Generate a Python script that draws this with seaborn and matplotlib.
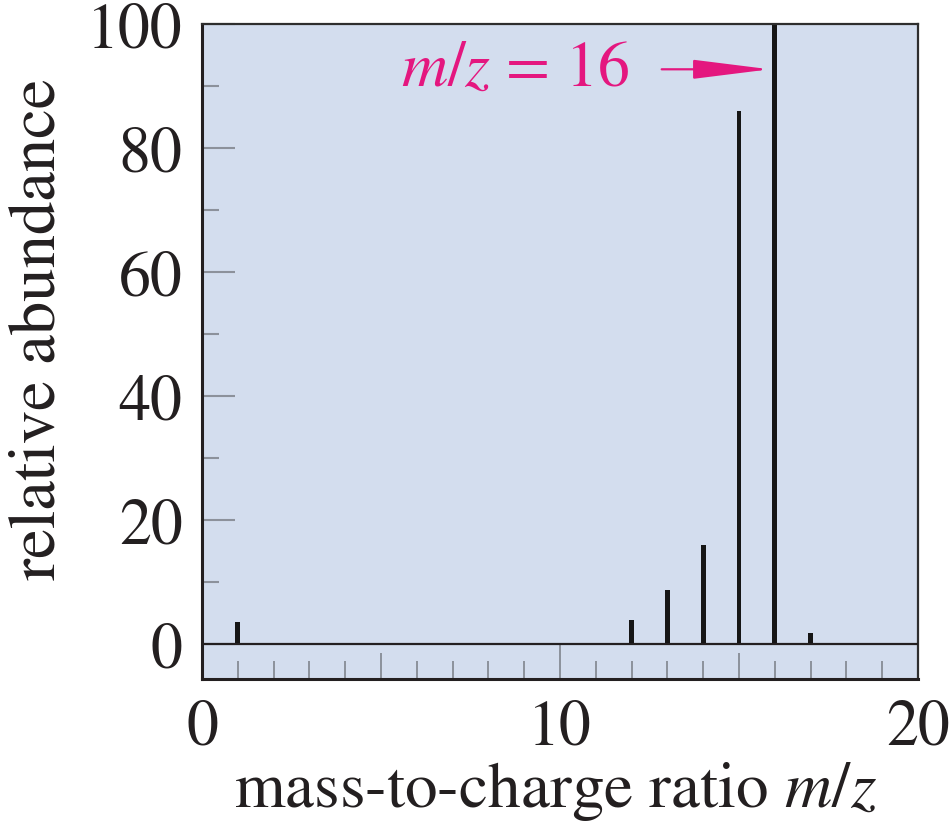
import matplotlib
matplotlib.use("Agg")
import matplotlib.pyplot as plt
import seaborn as sns
import pandas as pd

# Mass spectrum of methane (CH4)
mass_to_charge = [1, 12, 13, 14, 15, 16, 17]
relative_abundance = [3.5, 3.8, 8.7, 16.0, 86.0, 100.0, 1.8]
x_tick_labels = ["0", "10", "20"]
y_tick_values = [0, 20, 40, 60, 80, 100]
annotation_text = r"$m/z$ = 16"
base_peak = 16

spectrum = pd.DataFrame({"mz": mass_to_charge, "abundance": relative_abundance})

sns.set_theme(style="white")
plt.rcParams["font.family"] = ["STIXGeneral", "DejaVu Serif"]
plt.rcParams["mathtext.fontset"] = "stix"

ink = "#231f20"
tick_gray = "#8c919b"
panel = "#d3ddee"
magenta = "#e4177f"

fig = plt.figure(figsize=(9.52, 8.29), dpi=100)
ax = fig.add_axes([0.2122, 0.1797, 0.7521, 0.7901])
ax.set_facecolor(panel)

sns.histplot(data=spectrum, x="mz", weights="abundance", discrete=True,
             shrink=0.13, color="#161616", alpha=1, linewidth=0,
             edgecolor="none", ax=ax)

ax.axhline(0, color=ink, lw=1.6, zorder=3)

ax.set_xlim(0, 20)
ax.set_ylim(-5.65, 100)

# x axis: labelled majors, small minor ticks rising from the bottom frame
ax.set_xticks([0, 10, 20])
ax.set_xticklabels(x_tick_labels)
ax.set_xticks([m for m in range(1, 20) if m % 5 != 0], minor=True)
ax.tick_params(axis="x", which="major", direction="in", length=25,
               width=1.4, color=tick_gray, pad=14, labelsize=46,
               labelcolor=ink, bottom=True)
ax.tick_params(axis="x", which="minor", direction="in", length=13,
               width=1.4, color=tick_gray, bottom=True)
sec = ax.secondary_xaxis("bottom")
sec.set_xticks([5, 15])
sec.set_xticklabels(["", ""])
sec.tick_params(direction="in", length=19, width=1.4, color=tick_gray)
sec.spines["bottom"].set_visible(False)

# y axis
ax.set_yticks(y_tick_values)
ax.set_yticks([10, 30, 50, 70, 90], minor=True)
ax.tick_params(axis="y", which="major", direction="in", length=24,
               width=1.5, color=tick_gray, pad=14, labelsize=46,
               labelcolor=ink, left=True)
ax.tick_params(axis="y", which="minor", direction="in", length=12,
               width=1.5, color=tick_gray, left=True)

for side in ["left", "bottom"]:
    ax.spines[side].set_color(ink)
    ax.spines[side].set_linewidth(2.2)
for side in ["top", "right"]:
    ax.spines[side].set_color("#2e2e2e")
    ax.spines[side].set_linewidth(1.6)
    ax.spines[side].set_visible(True)

ax.set_xlabel(r"mass-to-charge ratio $m/z$", fontsize=47, color=ink)
ax.set_ylabel("relative abundance", fontsize=48, color=ink)
ax.xaxis.set_label_coords(0.494, -0.122)
ax.yaxis.set_label_coords(-0.185, 0.535)

ax.text(8.75, 92.7, annotation_text, color=magenta, fontsize=46,
        ha="center", va="center")
ax.annotate("", xy=(base_peak - 0.14, 92.7), xytext=(12.84, 92.7),
            arrowprops=dict(arrowstyle="-|>,head_length=2.4,head_width=0.3",
                            color=magenta, lw=1.6, mutation_scale=20,
                            shrinkA=0, shrinkB=0))

fig.savefig("out.png", dpi=100)
